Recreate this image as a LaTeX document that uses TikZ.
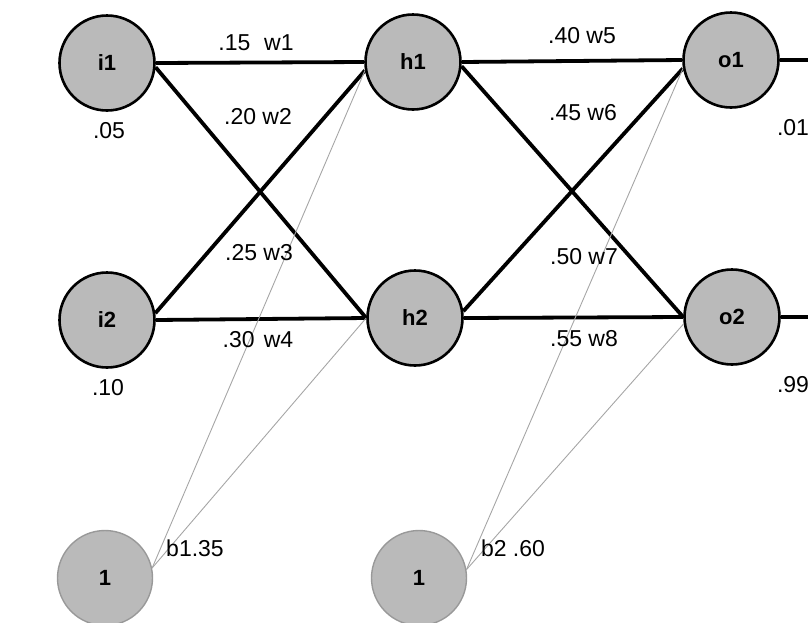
\documentclass[tikz,border=0pt]{standalone}
\usepackage{fontspec}
\setmainfont{Liberation Sans}
\begin{document}
\begin{tikzpicture}[x=1pt,y=-1pt,
  neuron/.style={circle,draw,line width=2.6pt,fill=black!27,minimum size=95pt,inner sep=0pt,font=\fontsize{22}{24}\selectfont\bfseries},
  bias/.style={neuron,draw=black!40,line width=1.4pt},
  link/.style={line width=3.8pt},
  biaslink/.style={black!35,line width=0.9pt},
  val/.style={font=\fontsize{23}{26}\selectfont,inner sep=0pt}]
\useasboundingbox (0,0) rectangle (808,622);

% neurons
\node[neuron] (i1) at (107,63) {i1};
\node[neuron] (i2) at (107,320) {i2};
\node[neuron] (h1) at (413,62) {h1};
\node[neuron] (h2) at (415,318) {h2};
\node[neuron] (o1) at (731,60) {o1};
\node[neuron] (o2) at (732,317) {o2};
\node[bias] (b1) at (105,578) {1};
\node[bias] (b2) at (419,578) {1};
\coordinate (out1) at (808,60);
\coordinate (out2) at (808,317);

% weights
\draw[link] (i1.east) -- (h1.west);
\draw[link] (i1.355) -- (h2.west);
\draw[link] (i2.8) -- (h1.190);
\draw[link] (i2.east) -- (h2.west);
\draw[link] (h1.east) -- (o1.west);
\draw[link] (h1.355) -- (o2.west);
\draw[link] (h2.8) -- (o1.190);
\draw[link] (h2.east) -- (o2.west);
\draw[link] (o1.east) -- (out1);
\draw[link] (o2.east) -- (out2);

% biases
\draw[biaslink] (b1.12) -- (h1.190);
\draw[biaslink] (b1.12) -- (h2.west);
\draw[biaslink] (b2.10) -- (o1.190);
\draw[biaslink] (b2.10) -- (o2.188);

% labels
\node[val] (lw1) at (256,43) {.15\hspace{0.6em}w1};
\node[val] (lw2) at (258,117) {.20 w2};
\node[val] (lw3) at (259,253) {.25 w3};
\node[val] (lw4) at (258,340) {.30\hspace{0.4em}w4};
\node[val] (lw5) at (582,36) {.40 w5};
\node[val] (lw6) at (583,113) {.45 w6};
\node[val] (lw7) at (584,257) {.50 w7};
\node[val] (lw8) at (584,339) {.55 w8};
\node[val] (li1) at (109,131) {.05};
\node[val] (li2) at (108,388) {.10};
\node[val] (lo1) at (793,128) {.01};
\node[val] (lo2) at (793,385) {.99};
\node[val] (lb1) at (195,548) {b1.35};
\node[val] (lb2) at (513,548) {b2 .60};
\end{tikzpicture}
\end{document}
